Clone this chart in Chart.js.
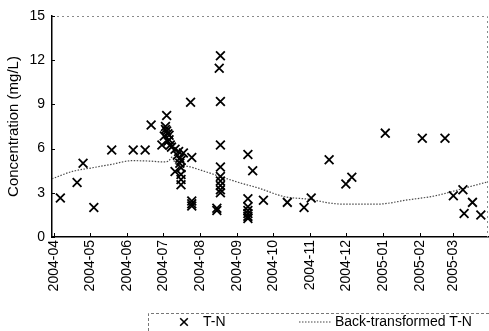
<!DOCTYPE html>
<html>
<head>
<meta charset="utf-8">
<script src="https://cdn.jsdelivr.net/npm/chart.js@4.4.1/dist/chart.umd.min.js"></script>
<style>
  html, body { margin: 0; padding: 0; background: #fff; }
  #wrap { width: 489px; height: 331px; }
</style>
</head>
<body>
<div id="wrap"><canvas id="c" width="489" height="331"></canvas></div>
<script>
// ---- data ----
const xTickLabels = ['2004-04','2004-05','2004-06','2004-07','2004-08','2004-09',
                     '2004-10','2004-11','2004-12','2005-01','2005-02','2005-03'];
const yTicks = [0, 3, 6, 9, 12, 15];
const xRange = ['2004-03-30', '2005-03-30'];

const tnDates = [
  '2004-04-06','2004-04-20','2004-04-25','2004-05-04','2004-05-19','2004-06-06','2004-06-16','2004-06-21',
  '2004-06-30','2004-07-02','2004-07-03','2004-07-03','2004-07-04','2004-07-04','2004-07-05','2004-07-05',
  '2004-07-06','2004-07-06','2004-07-07','2004-07-08','2004-07-11','2004-07-11','2004-07-13','2004-07-14',
  '2004-07-15','2004-07-15','2004-07-16','2004-07-16','2004-07-16','2004-07-16','2004-07-16','2004-07-18',
  '2004-07-24','2004-07-25','2004-07-25','2004-07-25','2004-07-25',
  '2004-08-15','2004-08-15','2004-08-17','2004-08-18','2004-08-18','2004-08-18','2004-08-18','2004-08-18',
  '2004-08-18','2004-08-18','2004-08-18','2004-08-18',
  '2004-09-10','2004-09-10','2004-09-10','2004-09-10','2004-09-10','2004-09-10','2004-09-10','2004-09-14',
  '2004-09-23','2004-10-13','2004-10-27','2004-11-02','2004-11-17','2004-12-01','2004-12-06',
  '2005-01-03','2005-02-03','2005-02-22','2005-03-01','2005-03-09','2005-03-10','2005-03-17','2005-03-24'
];
const tnValues = [
  2.65, 3.7, 5.0, 2.0, 5.9, 5.9, 5.9, 7.6,
  6.25, 6.85, 7.5, 7.3, 8.25, 7.2, 7.0, 6.5,
  6.9, 6.6, 6.25, 6.1, 5.95, 4.45, 5.55, 5.8,
  5.35, 5.0, 5.2, 4.7, 4.25, 3.9, 3.55, 5.7,
  9.15, 5.4, 2.45, 2.25, 2.1,
  1.95, 1.8, 11.45, 12.3, 9.2, 6.25, 4.75, 4.1,
  3.8, 3.5, 3.2, 3.0,
  5.6, 2.6, 2.05, 1.8, 1.6, 1.4, 1.25, 4.5,
  2.5, 2.35, 2.0, 2.65, 5.25, 3.6, 4.05,
  7.05, 6.7, 6.7, 2.8, 3.2, 1.6, 2.35, 1.5
];

const btDates = [
  '2004-03-30','2004-04-16','2004-05-03','2004-05-20','2004-06-05','2004-06-20','2004-06-30',
  '2004-07-05','2004-07-09','2004-07-11','2004-07-21','2004-08-01','2004-08-18','2004-09-04',
  '2004-09-19','2004-10-10','2004-11-01','2004-11-18','2004-11-28','2004-12-27','2005-01-22',
  '2005-02-14','2005-03-05','2005-03-30'
];
const btValues = [
  3.95, 4.45, 4.7, 4.95, 5.18, 5.15, 5.1,
  5.13, 5.45, 5.0, 4.8, 4.55, 4.1, 3.66,
  3.32, 2.75, 2.55, 2.3, 2.23, 2.23, 2.52,
  2.8, 3.2, 3.75
];

// ---- helpers ----
const BASE = Date.UTC(2004, 3, 1);
function dayOf(s) {
  const p = s.split('-').map(Number);
  return (Date.UTC(p[0], p[1] - 1, p[2] || 1) - BASE) / 86400000;
}
const tickDays = xTickLabels.map(l => dayOf(l + '-01'));
const FONT = '"Liberation Sans", Arial, Helvetica, sans-serif';

const framePlugin = {
  id: 'frame',
  afterDraw(chart) {
    const ctx = chart.ctx, a = chart.chartArea;
    const xs = chart.scales.x, ys = chart.scales.y;
    ctx.save();
    // faint dashed top & right frame
    ctx.strokeStyle = '#8a8a8a';
    ctx.lineWidth = 1;
    ctx.setLineDash([2, 3]);
    ctx.beginPath();
    ctx.moveTo(a.left, a.top + 0.5);
    ctx.lineTo(a.right - 0.5, a.top + 0.5);
    ctx.lineTo(a.right - 0.5, a.bottom);
    ctx.stroke();
    // inward ticks
    ctx.setLineDash([]);
    ctx.strokeStyle = '#000';
    ctx.beginPath();
    tickDays.forEach(d => {
      const px = Math.round(xs.getPixelForValue(d)) + 0.5;
      ctx.moveTo(px, a.bottom); ctx.lineTo(px, a.bottom - 4);
    });
    yTicks.forEach(v => {
      const py = Math.round(ys.getPixelForValue(v)) + 0.5;
      ctx.moveTo(a.left, py); ctx.lineTo(a.left + 3, py);
    });
    ctx.stroke();

    // legend
    const lt = chart.height - 18, ll = 148, cy = chart.height - 9;
    ctx.strokeStyle = '#777';
    ctx.setLineDash([3, 2]);
    ctx.beginPath();
    ctx.moveTo(ll + 0.5, chart.height);
    ctx.lineTo(ll + 0.5, lt + 0.5);
    ctx.lineTo(chart.width, lt + 0.5);
    ctx.stroke();
    ctx.setLineDash([]);
    // x marker
    ctx.strokeStyle = '#000';
    ctx.lineWidth = 1.6;
    ctx.beginPath();
    const mx = 184, r = 3.8;
    ctx.moveTo(mx - r, cy - r); ctx.lineTo(mx + r, cy + r);
    ctx.moveTo(mx + r, cy - r); ctx.lineTo(mx - r, cy + r);
    ctx.stroke();
    // dotted line sample
    ctx.strokeStyle = '#444';
    ctx.lineWidth = 1.2;
    ctx.setLineDash([1.5, 1.5]);
    ctx.beginPath();
    ctx.moveTo(299, cy); ctx.lineTo(331, cy);
    ctx.stroke();
    ctx.setLineDash([]);
    ctx.fillStyle = '#000';
    ctx.font = '14px ' + FONT;
    ctx.textBaseline = 'middle';
    ctx.fillText('T-N', 203, cy);
    ctx.fillText('Back-transformed T-N', 335, cy);
    ctx.restore();
  }
};

new Chart(document.getElementById('c'), {
  type: 'scatter',
  data: {
    datasets: [
      {
        label: 'T-N',
        data: tnDates.map((d, i) => ({ x: dayOf(d), y: tnValues[i] })),
        pointStyle: 'crossRot',
        pointRadius: 6.2,
        pointBorderWidth: 1.8,
        borderColor: '#000',
        backgroundColor: '#000',
        showLine: false
      },
      {
        label: 'Back-transformed T-N',
        data: btDates.map((d, i) => ({ x: dayOf(d), y: btValues[i] })),
        showLine: true,
        pointRadius: 0,
        borderColor: '#4a4a4a',
        borderWidth: 1.2,
        borderDash: [1.5, 1.5],
        cubicInterpolationMode: 'monotone',
        fill: false
      }
    ]
  },
  options: {
    responsive: false,
    animation: false,
    devicePixelRatio: 1,
    layout: { autoPadding: false, padding: { top: 16, right: 1, bottom: 34, left: 0 } },
    plugins: { legend: { display: false }, tooltip: { enabled: false } },
    scales: {
      x: {
        type: 'linear',
        min: dayOf(xRange[0]),
        max: dayOf(xRange[1]),
        afterBuildTicks: s => { s.ticks = tickDays.map(v => ({ value: v })); },
        afterFit: s => { s.height = 60; s.paddingLeft = 0; s.paddingRight = 0; },
        ticks: {
          autoSkip: false,
          minRotation: 90,
          maxRotation: 90,
          padding: 3,
          color: '#000',
          font: { family: FONT, size: 14 },
          callback: v => { const i = tickDays.indexOf(v); return i >= 0 ? xTickLabels[i] : ''; }
        },
        grid: { display: false, drawTicks: false },
        border: { display: true, color: '#000', width: 1.5 }
      },
      y: {
        min: 0,
        max: 15,
        afterBuildTicks: s => { s.ticks = yTicks.map(v => ({ value: v })); },
        afterFit: s => { s.width = 52; s.paddingTop = 0; s.paddingBottom = 0; s.paddingLeft = 0; s.paddingRight = 0; },
        ticks: {
          padding: 7,
          color: '#000',
          font: { family: FONT, size: 14 }
        },
        grid: { display: false, drawTicks: false },
        border: { display: true, color: '#000', width: 1.5 },
        title: {
          display: true,
          text: 'Concentration (mg/L)',
          color: '#000',
          font: { family: FONT, size: 15 },
          padding: { top: 5, bottom: 6 }
        }
      }
    }
  },
  plugins: [framePlugin]
});
</script>
</body>
</html>
